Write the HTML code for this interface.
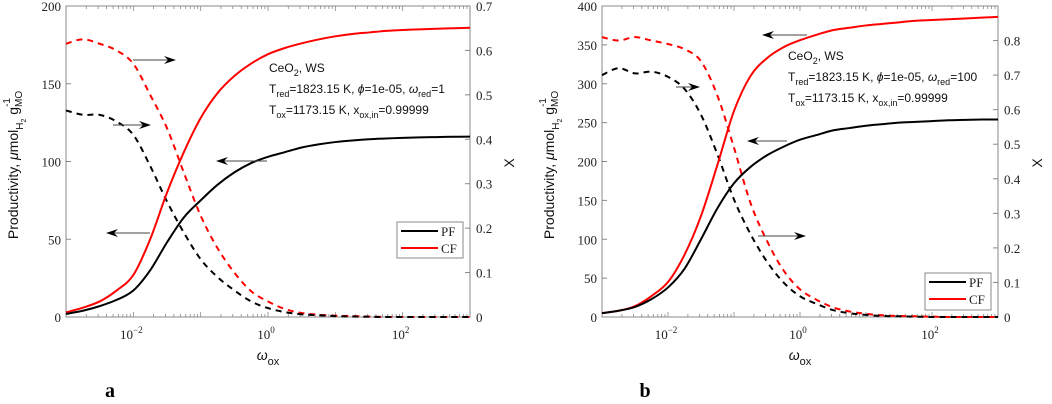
<!DOCTYPE html>
<html><head><meta charset="utf-8">
<style>
html,body{margin:0;padding:0;background:#fff;}
svg{display:block;}
.tk{font-family:"Liberation Serif",serif;font-size:13px;fill:#222;}
.ann{font-family:"Liberation Sans",sans-serif;font-size:12px;fill:#111;}
.lab{font-family:"Liberation Sans",sans-serif;font-size:14px;fill:#111;}
</style></head>
<body>
<svg id="fig" width="1052" height="404" viewBox="0 0 1052 404" xmlns="http://www.w3.org/2000/svg"></svg>
<script>
// shared x grid (log10 of omega_ox)
const logX = [-3,-2.75,-2.5,-2.25,-2,-1.75,-1.5,-1.25,-1,-0.75,-0.5,-0.25,0,0.25,0.5,0.75,1,1.25,1.5,1.75,2,2.25,2.5,2.75,3];
// panel a
const aPF = [2,4,7,11,17,30,48,64,75,85,93,99,103,106,109,111,112.5,113.5,114.3,114.8,115.2,115.5,115.7,115.9,116];
const aCF = [3,6,10,17,27,50,80,106,128,144,155,163,169,173,176,178.5,180.5,182,183,184,184.6,185,185.4,185.7,186];
const aPFx = [0.465,0.455,0.455,0.44,0.41,0.34,0.26,0.19,0.13,0.09,0.06,0.035,0.02,0.011,0.006,0.004,0.002,0.001,0.0005,0,0,0,0,0,0];
const aCFx = [0.615,0.625,0.615,0.6,0.57,0.5,0.425,0.325,0.228,0.155,0.1,0.058,0.035,0.018,0.009,0.005,0.003,0.002,0.001,0,0,0,0,0,0];
// panel b
const bPF = [5,8,13,23,38,62,100,140,172,193,208,219,228,234,240,243,246,248,250,251,252,253,253.5,254,254];
const bCF = [5,8,14,27,45,80,130,196,265,310,333,347,356,363,369,372,375,377,379,381,382,383,384,385,386];
const bPFx = [0.7,0.72,0.705,0.71,0.695,0.66,0.585,0.47,0.34,0.24,0.16,0.1,0.06,0.038,0.02,0.011,0.006,0.003,0.002,0.001,0,0,0,0,0];
const bCFx = [0.81,0.8,0.81,0.8,0.79,0.775,0.74,0.64,0.49,0.33,0.22,0.135,0.08,0.05,0.028,0.016,0.009,0.005,0.003,0.002,0.001,0,0,0,0];
const aLeftTicks = [0,50,100,150,200];
const aRightTicks = [0,0.1,0.2,0.3,0.4,0.5,0.6,0.7];
const bLeftTicks = [0,50,100,150,200,250,300,350,400];
const bRightTicks = [0,0.1,0.2,0.3,0.4,0.5,0.6,0.7,0.8];
const xMajor = [-2,0,2];

const NS="http://www.w3.org/2000/svg";
const svg=document.getElementById('fig');
function mk(tag,attrs,parent){const e=document.createElementNS(NS,tag);for(const k in attrs)e.setAttribute(k,attrs[k]);(parent||svg).appendChild(e);return e;}
function smooth(pts){let d='M'+pts[0][0].toFixed(2)+','+pts[0][1].toFixed(2);
 for(let i=0;i<pts.length-1;i++){const p0=pts[Math.max(0,i-1)],p1=pts[i],p2=pts[i+1],p3=pts[Math.min(pts.length-1,i+2)];
  const c1=[p1[0]+(p2[0]-p0[0])/6,p1[1]+(p2[1]-p0[1])/6],c2=[p2[0]-(p3[0]-p1[0])/6,p2[1]-(p3[1]-p1[1])/6];
  d+=' C'+c1[0].toFixed(2)+','+c1[1].toFixed(2)+' '+c2[0].toFixed(2)+','+c2[1].toFixed(2)+' '+p2[0].toFixed(2)+','+p2[1].toFixed(2);}
 return d;}

function panel(cfg){
 const g=mk('g',{});
 
 
 const L=cfg.x0,R=cfg.x1,T=6,B=317;
 const xs=v=>L+(v+3)/6*(R-L);
 const yl=v=>B-v/cfg.lmax*(B-T);
 const yr=v=>B-v/cfg.rmax*(B-T);
 const box=mk('rect',{x:L,y:T,width:R-L,height:B-T,fill:'none',stroke:'#888','stroke-width':1},g);
 
 
 for(let dec=-3;dec<3;dec++){for(let m=1;m<10;m++){const v=dec+Math.log10(m);const x=xs(v);const len=(m===1)?5:3;
  mk('line',{x1:x,x2:x,y1:B,y2:B-len,stroke:'#888','stroke-width':0.8},g);
  mk('line',{x1:x,x2:x,y1:T,y2:T+len,stroke:'#888','stroke-width':0.8},g);}}
 xMajor.forEach(v=>{const t=mk('text',{x:xs(v)-2,y:B+22,'text-anchor':'middle',class:'tk'},g);
  
  
  t.innerHTML='10<tspan dy="-6" font-size="9">'+(v<0?'\u2212'+(-v):v)+'</tspan>';});
 cfg.lt.forEach(v=>{const y=yl(v);mk('line',{x1:L,x2:L+5,y1:y,y2:y,stroke:'#888'},g);
  const t=mk('text',{x:L-5,y:y+5,'text-anchor':'end',class:'tk'},g);t.textContent=v;
  
  });
 cfg.rt.forEach(v=>{const y=yr(v);mk('line',{x1:R,x2:R-5,y1:y,y2:y,stroke:'#888'},g);
  const t=mk('text',{x:R+6,y:y+5,'text-anchor':'start',class:'tk'},g);t.textContent=(v===0?'0':v.toFixed(1));
  
  });
 const series=[[cfg.cfx,yr,'#f00','6,5','cf-conversion-line'],[cfg.pfx,yr,'#000','6,5','pf-conversion-line'],[cfg.cf,yl,'#f00','','cf-productivity-line'],[cfg.pf,yl,'#000','','pf-productivity-line']];
 series.forEach(s=>{const pts=logX.map((v,i)=>[xs(v),s[1](s[0][i])]);
  const p=mk('path',{d:smooth(pts),fill:'none',stroke:s[2],'stroke-width':2,'stroke-dasharray':s[3]},g);
  
  });
 cfg.arrows.forEach(a=>{const [x1,x2,y]=a;const dir=Math.sign(x2-x1);
  const ar=mk('g',{},g);
  
  
  mk('line',{x1:x1,x2:x2-dir*4,y1:y,y2:y,stroke:'#444','stroke-width':1},ar);
  mk('path',{d:`M${x2},${y} L${x2-dir*12},${y-4} L${x2-dir*8},${y} L${x2-dir*12},${y+4} Z`,fill:'#000'},ar);});
 const ax=cfg.annX,ay=cfg.annY;
 const an=mk('g',{},g);
 
 
 mk('text',{x:ax,y:ay,class:'ann'},an).innerHTML='CeO<tspan dy="4" font-size="9">2</tspan><tspan dy="-4">, WS</tspan>';
 mk('text',{x:ax,y:ay+21,class:'ann'},an).innerHTML='T<tspan dy="4" font-size="9">red</tspan><tspan dy="-4">=1823.15 K, </tspan><tspan font-style="italic">\u03d5</tspan>=1e-05, <tspan font-style="italic">\u03c9</tspan><tspan dy="4" font-size="9">red</tspan><tspan dy="-4">='+cfg.wred+'</tspan>';
 mk('text',{x:ax,y:ay+42,class:'ann'},an).innerHTML='T<tspan dy="4" font-size="9">ox</tspan><tspan dy="-4">=1173.15 K, x</tspan><tspan dy="4" font-size="9">ox,in</tspan><tspan dy="-4">=0.99999</tspan>';
 const [lx,ly,lw,lh]=cfg.leg;
 const lg=mk('g',{},g);
 
 
 mk('rect',{x:lx,y:ly,width:lw,height:lh,fill:'#fff',stroke:'#888'},lg);
 [['PF','#000'],['CF','#f00']].forEach((e,i)=>{const yy=ly+9+i*17;
  const le=mk('g',{},lg);
  
  
  mk('line',{x1:lx+4,x2:lx+41,y1:yy,y2:yy,stroke:e[1],'stroke-width':2},le);
  const t=mk('text',{x:lx+44,y:yy+5,class:'tk'},le);t.textContent=e[0];});
 const yt=mk('text',{transform:`translate(${L-48},165) rotate(-90)`,'text-anchor':'middle',class:'lab'},g);
 
 
 yt.innerHTML='Productivity, <tspan font-style="italic">\u03bc</tspan>mol<tspan dy="5" font-size="10">H</tspan><tspan dy="3" font-size="7">2</tspan><tspan dy="-8"> g</tspan><tspan dy="-8" font-size="10">-1</tspan><tspan dy="12" dx="-9" font-size="10">MO</tspan>';
 const xr=mk('text',{transform:`translate(${R+44},163) rotate(-90)`,'text-anchor':'middle',class:'lab'},g);
 
 
 xr.textContent='X';
 const xt=mk('text',{x:(L+R)/2,y:360,'text-anchor':'middle',class:'lab'},g);
 
 
 xt.innerHTML='<tspan font-style="italic">\u03c9</tspan><tspan dy="5" font-size="11">ox</tspan>';
 const pl=mk('text',{x:cfg.plX,y:397,'text-anchor':'middle','font-family':'Liberation Serif,serif','font-size':'20','font-weight':'bold'},g);
 
 
 pl.textContent=cfg.letter;
}

panel({name:'panel-a',x0:66,x1:470,lmax:200,rmax:0.7,lt:aLeftTicks,rt:aRightTicks,pf:aPF,cf:aCF,pfx:aPFx,cfx:aCFx,
 arrows:[[133,176,60],[113,151,125],[267,216,161],[150,106,233]],annX:269,annY:72,wred:'1',leg:[397,222,66,36],plX:110,letter:'a'});
panel({name:'panel-b',x0:602,x1:998,lmax:400,rmax:0.9,lt:bLeftTicks,rt:bRightTicks,pf:bPF,cf:bCF,pfx:bPFx,cfx:bCFx,
 arrows:[[807,762,35],[787,747,141],[676,700,87],[758,806,236]],annX:788,annY:60,wred:'100',leg:[925,273,66,37],plX:645,letter:'b'});
</script>
</body></html>
